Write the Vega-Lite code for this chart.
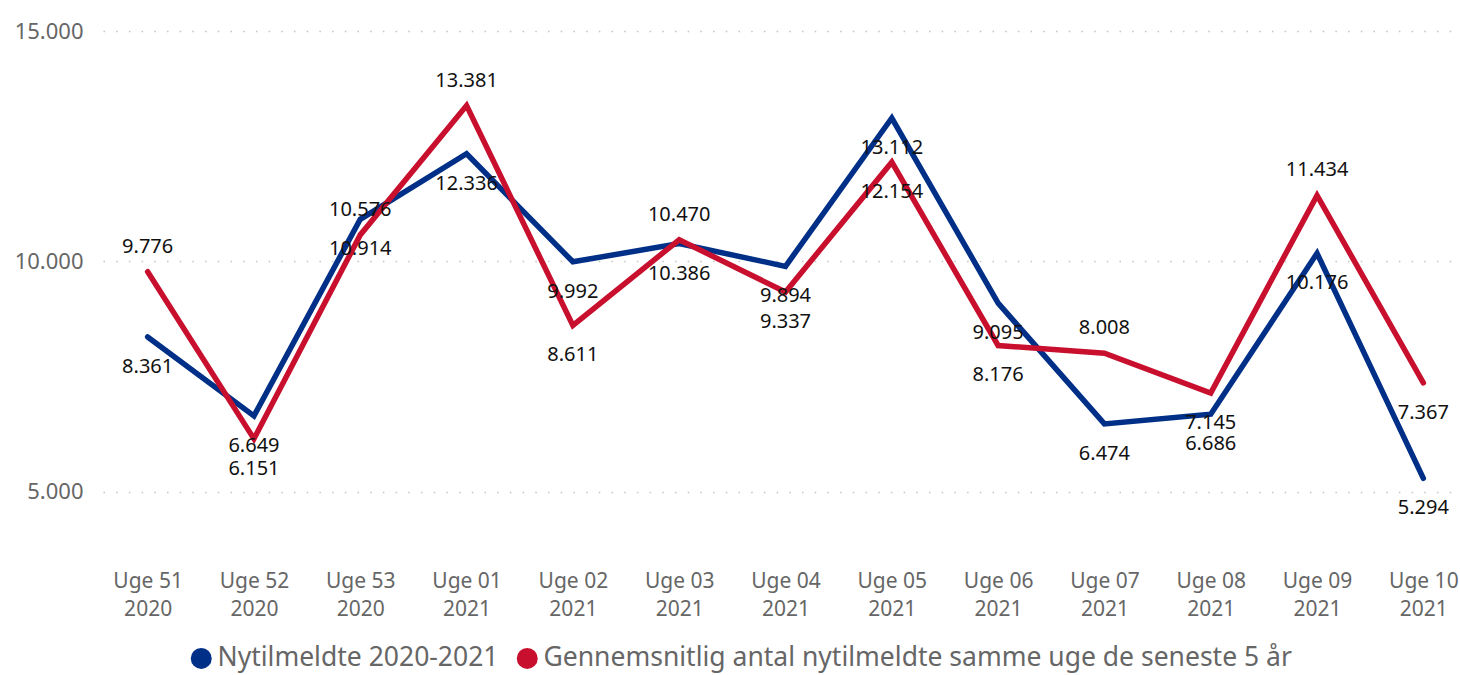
{
  "$schema": "https://vega.github.io/schema/vega-lite/v6.json",
  "autosize": "none",
  "padding": {"left": 103, "top": 31, "right": 0, "bottom": 114},
  "width": 1365,
  "height": 530,
  "background": "white",
  "config": {
    "locale": {"number": {"decimal": ",", "thousands": ".", "grouping": [3], "currency": ["", " kr."]}},
    "view": {"stroke": null},
    "font": "Noto Sans"
  },
  "data": {
    "values": [
      {"week": "Uge 51 2020", "series": "Nytilmeldte 2020-2021", "value": 8361},
      {"week": "Uge 52 2020", "series": "Nytilmeldte 2020-2021", "value": 6649},
      {"week": "Uge 53 2020", "series": "Nytilmeldte 2020-2021", "value": 10914},
      {"week": "Uge 01 2021", "series": "Nytilmeldte 2020-2021", "value": 12336},
      {"week": "Uge 02 2021", "series": "Nytilmeldte 2020-2021", "value": 9992},
      {"week": "Uge 03 2021", "series": "Nytilmeldte 2020-2021", "value": 10386},
      {"week": "Uge 04 2021", "series": "Nytilmeldte 2020-2021", "value": 9894},
      {"week": "Uge 05 2021", "series": "Nytilmeldte 2020-2021", "value": 13112},
      {"week": "Uge 06 2021", "series": "Nytilmeldte 2020-2021", "value": 9095},
      {"week": "Uge 07 2021", "series": "Nytilmeldte 2020-2021", "value": 6474},
      {"week": "Uge 08 2021", "series": "Nytilmeldte 2020-2021", "value": 6686},
      {"week": "Uge 09 2021", "series": "Nytilmeldte 2020-2021", "value": 10176},
      {"week": "Uge 10 2021", "series": "Nytilmeldte 2020-2021", "value": 5294},
      {"week": "Uge 51 2020", "series": "Gennemsnitlig antal nytilmeldte samme uge de seneste 5 år", "value": 9776},
      {"week": "Uge 52 2020", "series": "Gennemsnitlig antal nytilmeldte samme uge de seneste 5 år", "value": 6151},
      {"week": "Uge 53 2020", "series": "Gennemsnitlig antal nytilmeldte samme uge de seneste 5 år", "value": 10576},
      {"week": "Uge 01 2021", "series": "Gennemsnitlig antal nytilmeldte samme uge de seneste 5 år", "value": 13381},
      {"week": "Uge 02 2021", "series": "Gennemsnitlig antal nytilmeldte samme uge de seneste 5 år", "value": 8611},
      {"week": "Uge 03 2021", "series": "Gennemsnitlig antal nytilmeldte samme uge de seneste 5 år", "value": 10470},
      {"week": "Uge 04 2021", "series": "Gennemsnitlig antal nytilmeldte samme uge de seneste 5 år", "value": 9337},
      {"week": "Uge 05 2021", "series": "Gennemsnitlig antal nytilmeldte samme uge de seneste 5 år", "value": 12154},
      {"week": "Uge 06 2021", "series": "Gennemsnitlig antal nytilmeldte samme uge de seneste 5 år", "value": 8176},
      {"week": "Uge 07 2021", "series": "Gennemsnitlig antal nytilmeldte samme uge de seneste 5 år", "value": 8008},
      {"week": "Uge 08 2021", "series": "Gennemsnitlig antal nytilmeldte samme uge de seneste 5 år", "value": 7145},
      {"week": "Uge 09 2021", "series": "Gennemsnitlig antal nytilmeldte samme uge de seneste 5 år", "value": 11434},
      {"week": "Uge 10 2021", "series": "Gennemsnitlig antal nytilmeldte samme uge de seneste 5 år", "value": 7367}
    ]
  },
  "encoding": {
    "x": {
      "field": "week", "type": "ordinal", "sort": null,
      "scale": {"type": "point", "padding": 0.42},
      "axis": {
        "title": null, "domain": false, "ticks": false, "labelAngle": 0,
        "labelFontSize": 21, "labelColor": "#666666", "labelPadding": 9,
        "labelLineHeight": 28, "labelBaseline": "top",
        "labelExpr": "[substring(datum.label, 0, 6), substring(datum.label, 7)]"
      }
    },
    "y": {
      "field": "value", "type": "quantitative",
      "scale": {"domain": [3500, 15000], "nice": false, "zero": false},
      "axis": {
        "title": null, "domain": false, "ticks": false,
        "values": [5000, 10000, 15000], "format": ",d",
        "labelFontSize": 22, "labelColor": "#666666", "labelPadding": 20,
        "gridColor": "#c4c4c4", "gridDash": [1.5, 11.2], "gridWidth": 1.5
      }
    }
  },
  "layer": [
    {
      "mark": {"type": "line", "strokeWidth": 5.5, "strokeCap": "round", "strokeJoin": "miter"},
      "encoding": {
        "color": {
          "field": "series", "type": "nominal",
          "scale": {
            "domain": ["Nytilmeldte 2020-2021", "Gennemsnitlig antal nytilmeldte samme uge de seneste 5 år"],
            "range": ["#002F87", "#C8102E"]
          },
          "legend": {
            "title": null, "orient": "none", "direction": "horizontal",
            "legendX": 85, "legendY": 614,
            "symbolType": "circle", "symbolSize": 441,
            "symbolStrokeWidth": 0,
            "labelFontSize": 26.5, "labelColor": "#666666", "labelOffset": 3,
            "columnPadding": 15, "labelLimit": 1000,
            "encode": {"symbols": {"update": {"fill": {"scale": "color", "field": "value"}, "strokeWidth": {"value": 0}}}}
          }
        },
        "order": {"field": "series", "sort": "descending"}
      }
    },
    {
      "transform": [{"filter": "datum.series == 'Nytilmeldte 2020-2021'"}],
      "mark": {"type": "text", "dy": 30, "fontSize": 20, "color": "#111111", "baseline": "middle"},
      "encoding": {"text": {"field": "value", "type": "quantitative", "format": ",d"}}
    },
    {
      "transform": [
        {"filter": "datum.series != 'Nytilmeldte 2020-2021'"},
        {"filter": "indexof(['Uge 52 2020','Uge 02 2021','Uge 04 2021','Uge 05 2021','Uge 06 2021','Uge 08 2021','Uge 10 2021'], datum.week) >= 0"}
      ],
      "mark": {"type": "text", "dy": 30, "fontSize": 20, "color": "#111111", "baseline": "middle"},
      "encoding": {"text": {"field": "value", "type": "quantitative", "format": ",d"}}
    },
    {
      "transform": [
        {"filter": "datum.series != 'Nytilmeldte 2020-2021'"},
        {"filter": "indexof(['Uge 52 2020','Uge 02 2021','Uge 04 2021','Uge 05 2021','Uge 06 2021','Uge 08 2021','Uge 10 2021'], datum.week) < 0"}
      ],
      "mark": {"type": "text", "dy": -25, "fontSize": 20, "color": "#111111", "baseline": "middle"},
      "encoding": {"text": {"field": "value", "type": "quantitative", "format": ",d"}}
    }
  ]
}
